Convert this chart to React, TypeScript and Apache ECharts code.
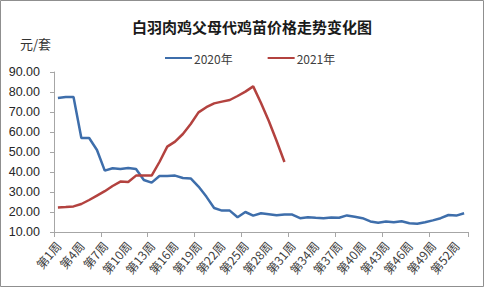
import React, { useEffect, useRef } from "react";
import * as echarts from "echarts";

const weeks: string[] = Array.from({ length: 53 }, (_, i) => `第${i + 1}周`);

const price2020: number[] = [
  77, 77.5, 77.5, 57, 57, 51, 40.7, 41.9, 41.5, 42, 41.5, 36, 34.7, 38, 38, 38.2,
  37, 36.8, 32.7, 27.7, 22, 20.7, 20.7, 17.4, 20, 18.2, 19.4, 18.9, 18.4, 18.7,
  18.7, 16.9, 17.4, 17.1, 16.9, 17.3, 17.1, 18.3, 17.6, 16.9, 15.3, 14.6, 15.2,
  14.9, 15.4, 14.4, 14.1, 14.9, 15.8, 16.9, 18.5, 18.2, 19.4,
];

const price2021: number[] = [
  22.3, 22.5, 22.8, 24, 26, 28.2, 30.4, 33, 35.2, 35, 38.2, 38.2, 38.2, 45, 52.7,
  55.2, 59, 64, 69.8, 72.4, 74.3, 75.2, 76, 78, 80.2, 82.8, 74.5, 65.5, 55.5, 45,
];

const seriesNames: string[] = ["2020年", "2021年"];
const title = "白羽肉鸡父母代鸡苗价格走势变化图";
const unitLabel = "元/套";

export default function App() {
  const ref = useRef<HTMLDivElement>(null);
  useEffect(() => {
    document.body.style.margin = "0";
    if (!ref.current) return;
    const chart = echarts.init(ref.current, undefined, { renderer: "svg" });
    const axisColor = "#a6a6a6";
    chart.setOption({
      animation: false,
      backgroundColor: "#ffffff",
      title: {
        text: title,
        left: 247,
        textAlign: "center",
        top: 14,
        textStyle: {
          fontSize: 15,
          fontWeight: "bold",
          color: "#1a1a1a",
          fontFamily: "Noto Sans CJK SC",
        },
      },
      graphic: [
        {
          type: "rect",
          shape: { x: 0.5, y: 0.5, width: 483, height: 286 },
          style: { fill: "none", stroke: "#8f8f8f", lineWidth: 1 },
          silent: true,
        },
        {
          type: "text",
          left: 20,
          top: 37,
          style: {
            text: unitLabel,
            fontSize: 13,
            fill: "#333",
            fontFamily: "Noto Sans CJK SC",
          },
        },
      ],
      legend: {
        left: 160,
        top: 47,
        itemGap: 35,
        itemWidth: 27,
        itemHeight: 2,
        icon: "rect",
        textStyle: { fontSize: 12, color: "#404040", fontFamily: "Noto Sans CJK SC", padding: [0, 0, 0, -3] },
        data: seriesNames,
      },
      grid: { left: 54, right: 18, top: 72, bottom: 57, containLabel: false },
      xAxis: {
        type: "category",
        data: weeks,
        boundaryGap: true,
        axisLine: { lineStyle: { color: axisColor, width: 1 } },
        axisTick: { show: true, interval: 5, alignWithLabel: false, length: 5, lineStyle: { color: axisColor } },
        axisLabel: {
          interval: 2,
          rotate: 50,
          margin: 11,
          fontSize: 12,
          color: "#404040",
          fontFamily: "Noto Sans CJK SC",
        },
        splitLine: { show: false },
      },
      yAxis: {
        type: "value",
        min: 10,
        max: 90,
        interval: 10,
        axisLine: { show: true, lineStyle: { color: axisColor, width: 1 } },
        axisTick: { show: true, inside: false, length: 4, lineStyle: { color: axisColor } },
        axisLabel: {
          margin: 14,
          fontSize: 12.5,
          color: "#262626",
          fontFamily: "Liberation Sans",
          formatter: (v: number) => v.toFixed(2),
        },
        splitLine: { show: false },
      },
      series: [
        {
          name: seriesNames[0],
          type: "line",
          data: price2020,
          symbol: "none",
          lineStyle: { color: "#3e6eab", width: 2.5 },
          itemStyle: { color: "#3e6eab" },
        },
        {
          name: seriesNames[1],
          type: "line",
          data: price2021,
          symbol: "none",
          lineStyle: { color: "#b3423f", width: 2.5 },
          itemStyle: { color: "#b3423f" },
        },
      ],
    });
    return () => chart.dispose();
  }, []);
  return (
    <div style={{ position: "absolute", left: 0, top: 0, width: 486, height: 289 }}>
      <div ref={ref} style={{ width: 486, height: 289 }} />
    </div>
  );
}
